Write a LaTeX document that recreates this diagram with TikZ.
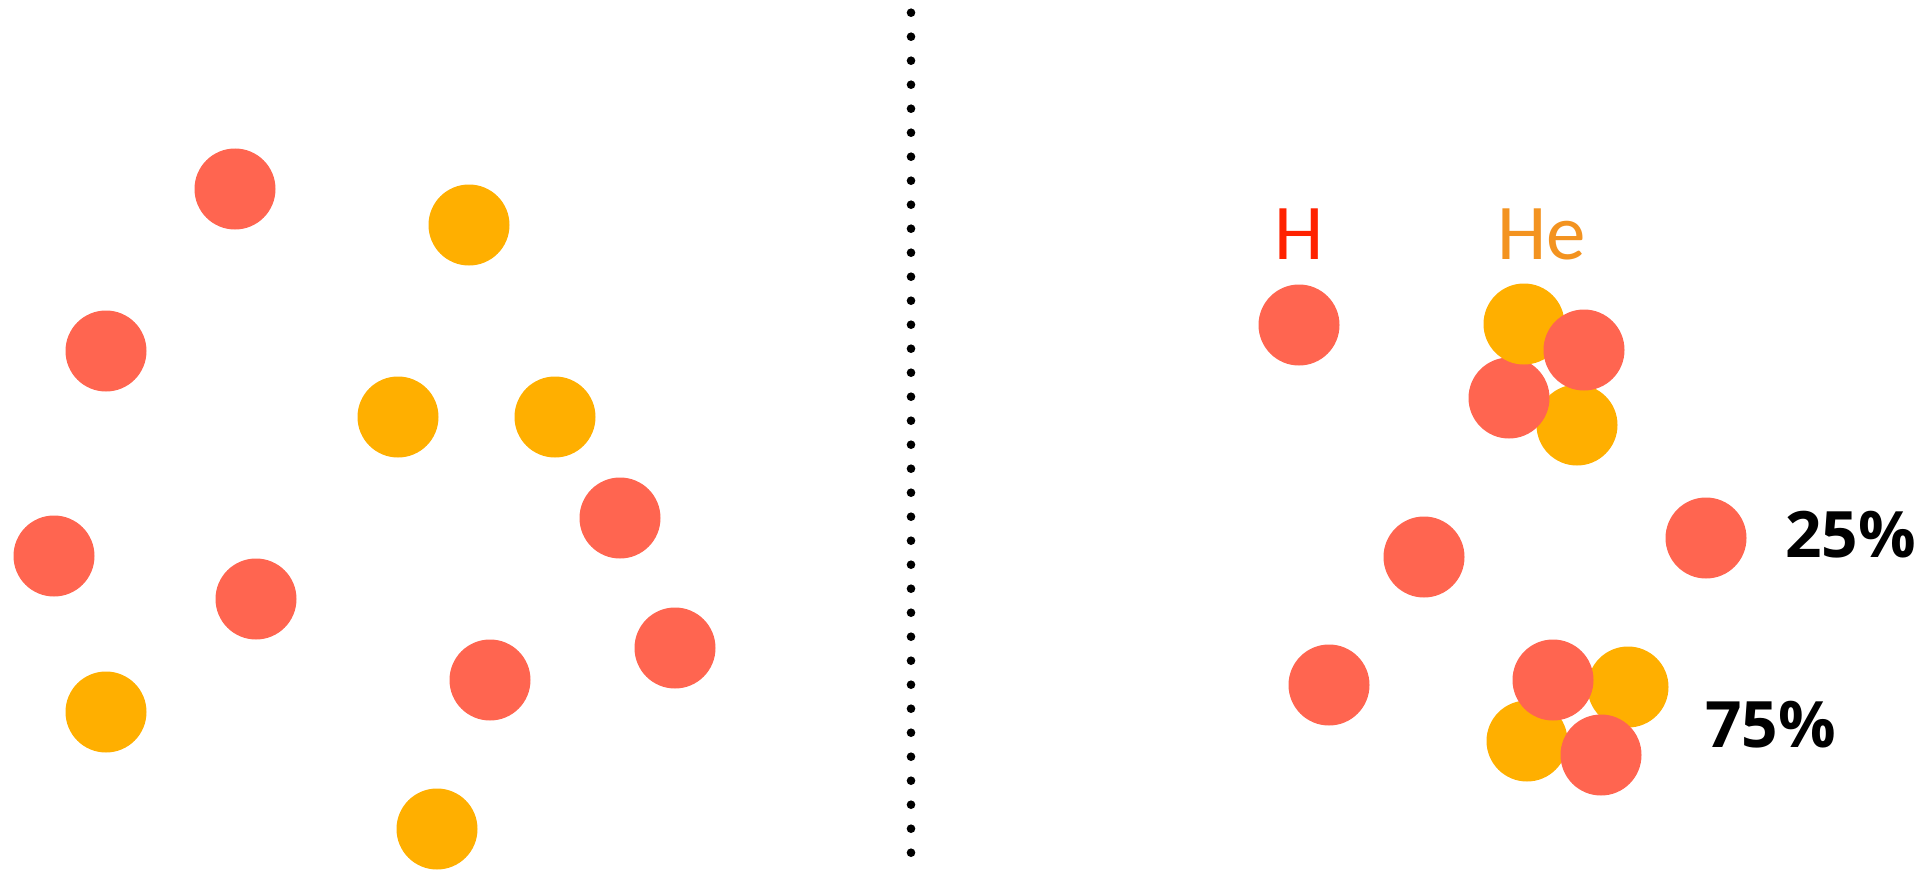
\documentclass[tikz,border=0pt]{standalone}
\usepackage{fontspec}
\newfontfamily\elemfont{Carlito}
\newfontfamily\pctfont{Open Sans}
\definecolor{rouge}{HTML}{FF6550}
\definecolor{jaune}{HTML}{FFAF00}
\definecolor{rougeH}{HTML}{FF2200}
\definecolor{orangeHe}{HTML}{F39320}
\begin{document}
\begin{tikzpicture}[x=1pt,y=-1pt]
		\tikzstyle{boule_rouge}=[circle, minimum size=81pt, inner sep=0pt, fill=rouge]
		\tikzstyle{boule_jaune}=[circle, minimum size=81pt, inner sep=0pt, fill=jaune]
		\tikzstyle{symbole}=[inner sep=0pt, anchor=base, font=\elemfont\fontsize{79}{90}\selectfont]
		\tikzstyle{pourcent}=[inner sep=0pt, anchor=base west, font=\pctfont\bfseries\fontsize{64}{72}\selectfont]
		\useasboundingbox (0,0) rectangle (1930,872);
		% gauche : melange
		\node[boule_rouge] (g1) at (235,189) {};
		\node[boule_jaune] (g2) at (469,225) {};
		\node[boule_rouge] (g3) at (106,351) {};
		\node[boule_jaune] (g4) at (398,417) {};
		\node[boule_jaune] (g5) at (555,417) {};
		\node[boule_rouge] (g6) at (620,518) {};
		\node[boule_rouge] (g7) at (54,556) {};
		\node[boule_rouge] (g8) at (256,599) {};
		\node[boule_rouge] (g9) at (675,648) {};
		\node[boule_rouge] (g10) at (490,680) {};
		\node[boule_jaune] (g11) at (106,712) {};
		\node[boule_jaune] (g12) at (437,829) {};
		% separation
		\foreach \i in {0,...,35}
			\fill (911,{12.7+24*\i}) circle (4.3pt);
		% droite : H seul
		\node[boule_rouge] (h1) at (1299,325) {};
		\node[boule_rouge] (h2) at (1424,557) {};
		\node[boule_rouge] (h3) at (1706,538) {};
		\node[boule_rouge] (h4) at (1329,685) {};
		% droite : noyau He haut
		\node[boule_jaune] (a1) at (1577,425) {};
		\node[boule_rouge] (a2) at (1509,398) {};
		\node[boule_jaune] (a3) at (1524,324) {};
		\node[boule_rouge] (a4) at (1584,350) {};
		% droite : noyau He bas
		\node[boule_jaune] (b1) at (1628,687) {};
		\node[boule_jaune] (b2) at (1527,741) {};
		\node[boule_rouge] (b3) at (1553,680) {};
		\node[boule_rouge] (b4) at (1601,755) {};
		% textes
		\node[symbole, text=rougeH] (labH) at (1299,259) {H};
		\node[symbole, text=orangeHe, anchor=base west] (labHe) at (1497,259) {He};
		\node[pourcent] (p25) at (1785,557) {25\%};
		\node[pourcent] (p75) at (1705,747) {75\%};
	\end{tikzpicture}
\end{document}
